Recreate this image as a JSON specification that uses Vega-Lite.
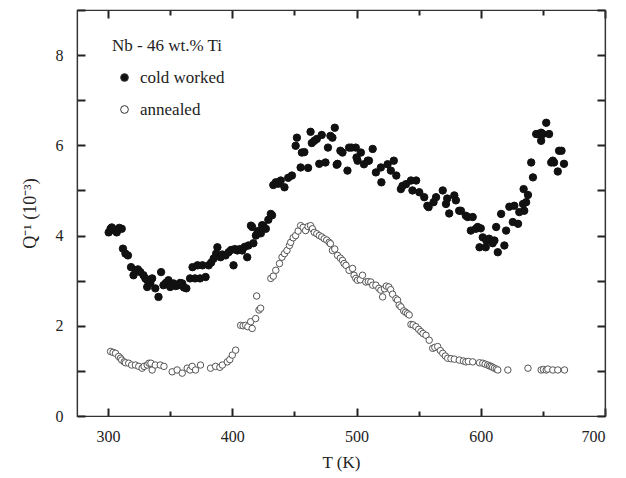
{
  "$schema": "https://vega.github.io/schema/vega-lite/v6.json",
  "width": 528,
  "height": 406,
  "autosize": {"type": "none"},
  "padding": {"left": 77, "top": 10, "right": 21, "bottom": 62},
  "background": "white",
  "config": {
    "view": {"stroke": "#333", "strokeWidth": 1.2},
    "axis": {
      "domainColor": "#333",
      "domainWidth": 1.2,
      "tickColor": "#222",
      "tickWidth": 2,
      "grid": false,
      "labelFont": "Liberation Serif, Times New Roman, serif",
      "labelFontSize": 16,
      "labelColor": "#222",
      "titleFont": "Liberation Serif, Times New Roman, serif",
      "titleFontSize": 17,
      "titleFontWeight": "normal",
      "titleColor": "#222"
    },
    "legend": {
      "titleFont": "Liberation Serif, Times New Roman, serif",
      "titleFontSize": 17,
      "titleFontWeight": "normal",
      "titleColor": "#222",
      "labelFont": "Liberation Serif, Times New Roman, serif",
      "labelFontSize": 17,
      "labelColor": "#222",
      "symbolType": "circle",
      "symbolSize": 60,
      "symbolStrokeColor": "#333",
      "symbolStrokeWidth": 1,
      "symbolOffset": 4,
      "labelOffset": 7,
      "rowPadding": 14,
      "titlePadding": 14
    }
  },
  "data": {
    "values": [
      {"s": "cold worked", "T": 300.5, "Q": 4.07},
      {"s": "cold worked", "T": 302, "Q": 4.15},
      {"s": "cold worked", "T": 303, "Q": 4.18},
      {"s": "cold worked", "T": 305, "Q": 4.12},
      {"s": "cold worked", "T": 307, "Q": 4.07},
      {"s": "cold worked", "T": 309, "Q": 4.17},
      {"s": "cold worked", "T": 311, "Q": 4.15},
      {"s": "cold worked", "T": 312, "Q": 3.71},
      {"s": "cold worked", "T": 314, "Q": 3.6},
      {"s": "cold worked", "T": 316, "Q": 3.56},
      {"s": "cold worked", "T": 318.5, "Q": 3.3},
      {"s": "cold worked", "T": 320.5, "Q": 3.12},
      {"s": "cold worked", "T": 322, "Q": 3.23},
      {"s": "cold worked", "T": 324, "Q": 3.25},
      {"s": "cold worked", "T": 326, "Q": 3.19},
      {"s": "cold worked", "T": 328.5, "Q": 3.12},
      {"s": "cold worked", "T": 330, "Q": 3.05},
      {"s": "cold worked", "T": 331.5, "Q": 3.01},
      {"s": "cold worked", "T": 331.5, "Q": 2.86},
      {"s": "cold worked", "T": 334, "Q": 2.95},
      {"s": "cold worked", "T": 335.5, "Q": 3.05},
      {"s": "cold worked", "T": 338, "Q": 2.83},
      {"s": "cold worked", "T": 340.6, "Q": 2.64},
      {"s": "cold worked", "T": 342.7, "Q": 3.19},
      {"s": "cold worked", "T": 344.6, "Q": 2.9},
      {"s": "cold worked", "T": 346.5, "Q": 2.95},
      {"s": "cold worked", "T": 348.6, "Q": 3.01},
      {"s": "cold worked", "T": 350, "Q": 2.86},
      {"s": "cold worked", "T": 352.7, "Q": 2.94},
      {"s": "cold worked", "T": 354.5, "Q": 2.88},
      {"s": "cold worked", "T": 356.7, "Q": 2.9},
      {"s": "cold worked", "T": 358, "Q": 2.95},
      {"s": "cold worked", "T": 359.7, "Q": 2.94},
      {"s": "cold worked", "T": 361, "Q": 2.85},
      {"s": "cold worked", "T": 363, "Q": 2.83},
      {"s": "cold worked", "T": 366, "Q": 3.05},
      {"s": "cold worked", "T": 368, "Q": 3.3},
      {"s": "cold worked", "T": 370, "Q": 3.05},
      {"s": "cold worked", "T": 372, "Q": 3.34},
      {"s": "cold worked", "T": 374, "Q": 3.05},
      {"s": "cold worked", "T": 376, "Q": 3.34},
      {"s": "cold worked", "T": 378.5, "Q": 3.08},
      {"s": "cold worked", "T": 381, "Q": 3.34},
      {"s": "cold worked", "T": 383, "Q": 3.4},
      {"s": "cold worked", "T": 385, "Q": 3.49},
      {"s": "cold worked", "T": 387, "Q": 3.6},
      {"s": "cold worked", "T": 388, "Q": 3.74},
      {"s": "cold worked", "T": 390.6, "Q": 3.52},
      {"s": "cold worked", "T": 392, "Q": 3.58},
      {"s": "cold worked", "T": 394.6, "Q": 3.56},
      {"s": "cold worked", "T": 397, "Q": 3.63},
      {"s": "cold worked", "T": 399, "Q": 3.68},
      {"s": "cold worked", "T": 401, "Q": 3.34},
      {"s": "cold worked", "T": 402, "Q": 3.7},
      {"s": "cold worked", "T": 404, "Q": 3.67},
      {"s": "cold worked", "T": 406, "Q": 3.7},
      {"s": "cold worked", "T": 408, "Q": 3.67},
      {"s": "cold worked", "T": 410, "Q": 3.75},
      {"s": "cold worked", "T": 412, "Q": 3.52},
      {"s": "cold worked", "T": 413, "Q": 3.78},
      {"s": "cold worked", "T": 415, "Q": 4.22},
      {"s": "cold worked", "T": 416, "Q": 4.19},
      {"s": "cold worked", "T": 417, "Q": 3.83},
      {"s": "cold worked", "T": 419, "Q": 4.0},
      {"s": "cold worked", "T": 420, "Q": 4.04},
      {"s": "cold worked", "T": 421, "Q": 4.1},
      {"s": "cold worked", "T": 423, "Q": 4.05},
      {"s": "cold worked", "T": 424, "Q": 4.23},
      {"s": "cold worked", "T": 425, "Q": 4.22},
      {"s": "cold worked", "T": 427, "Q": 4.15},
      {"s": "cold worked", "T": 429, "Q": 4.35},
      {"s": "cold worked", "T": 431, "Q": 4.48},
      {"s": "cold worked", "T": 432, "Q": 4.45},
      {"s": "cold worked", "T": 433, "Q": 5.12},
      {"s": "cold worked", "T": 435, "Q": 5.18},
      {"s": "cold worked", "T": 437, "Q": 5.15},
      {"s": "cold worked", "T": 439, "Q": 5.22},
      {"s": "cold worked", "T": 442, "Q": 5.07},
      {"s": "cold worked", "T": 445, "Q": 5.28},
      {"s": "cold worked", "T": 448, "Q": 5.33},
      {"s": "cold worked", "T": 451, "Q": 5.99},
      {"s": "cold worked", "T": 452, "Q": 6.17},
      {"s": "cold worked", "T": 455, "Q": 5.51},
      {"s": "cold worked", "T": 456, "Q": 5.84},
      {"s": "cold worked", "T": 458, "Q": 5.85},
      {"s": "cold worked", "T": 461, "Q": 5.5},
      {"s": "cold worked", "T": 463, "Q": 6.3},
      {"s": "cold worked", "T": 464, "Q": 6.05},
      {"s": "cold worked", "T": 466, "Q": 6.1},
      {"s": "cold worked", "T": 468, "Q": 6.14},
      {"s": "cold worked", "T": 470, "Q": 5.59},
      {"s": "cold worked", "T": 472, "Q": 6.23},
      {"s": "cold worked", "T": 475, "Q": 5.62},
      {"s": "cold worked", "T": 477, "Q": 5.95},
      {"s": "cold worked", "T": 479, "Q": 6.21},
      {"s": "cold worked", "T": 480.6, "Q": 6.17},
      {"s": "cold worked", "T": 482.5, "Q": 6.39},
      {"s": "cold worked", "T": 484, "Q": 5.57},
      {"s": "cold worked", "T": 484.7, "Q": 5.59},
      {"s": "cold worked", "T": 487, "Q": 5.88},
      {"s": "cold worked", "T": 488.7, "Q": 5.84},
      {"s": "cold worked", "T": 492.7, "Q": 5.44},
      {"s": "cold worked", "T": 494, "Q": 5.95},
      {"s": "cold worked", "T": 496, "Q": 5.95},
      {"s": "cold worked", "T": 499.4, "Q": 5.95},
      {"s": "cold worked", "T": 500, "Q": 5.73},
      {"s": "cold worked", "T": 500.8, "Q": 5.66},
      {"s": "cold worked", "T": 503.5, "Q": 5.84},
      {"s": "cold worked", "T": 506, "Q": 5.58},
      {"s": "cold worked", "T": 509, "Q": 5.66},
      {"s": "cold worked", "T": 510, "Q": 5.66},
      {"s": "cold worked", "T": 513, "Q": 5.92},
      {"s": "cold worked", "T": 515.6, "Q": 5.4},
      {"s": "cold worked", "T": 519.6, "Q": 5.51},
      {"s": "cold worked", "T": 520, "Q": 5.18},
      {"s": "cold worked", "T": 525, "Q": 5.58},
      {"s": "cold worked", "T": 527.6, "Q": 5.44},
      {"s": "cold worked", "T": 530, "Q": 5.66},
      {"s": "cold worked", "T": 532, "Q": 5.33},
      {"s": "cold worked", "T": 535.7, "Q": 5.03},
      {"s": "cold worked", "T": 537, "Q": 5.1},
      {"s": "cold worked", "T": 539.8, "Q": 5.14},
      {"s": "cold worked", "T": 543.8, "Q": 5.22},
      {"s": "cold worked", "T": 545, "Q": 5.0},
      {"s": "cold worked", "T": 548, "Q": 5.22},
      {"s": "cold worked", "T": 550.5, "Q": 4.96},
      {"s": "cold worked", "T": 554.5, "Q": 4.85},
      {"s": "cold worked", "T": 557, "Q": 4.66},
      {"s": "cold worked", "T": 558, "Q": 4.63},
      {"s": "cold worked", "T": 562, "Q": 4.74},
      {"s": "cold worked", "T": 564, "Q": 4.85},
      {"s": "cold worked", "T": 569.4, "Q": 5.0},
      {"s": "cold worked", "T": 572, "Q": 4.7},
      {"s": "cold worked", "T": 573, "Q": 4.82},
      {"s": "cold worked", "T": 574.6, "Q": 4.49},
      {"s": "cold worked", "T": 578.7, "Q": 4.89},
      {"s": "cold worked", "T": 580, "Q": 4.78},
      {"s": "cold worked", "T": 582.6, "Q": 4.55},
      {"s": "cold worked", "T": 584, "Q": 4.55},
      {"s": "cold worked", "T": 588, "Q": 4.44},
      {"s": "cold worked", "T": 589.5, "Q": 4.41},
      {"s": "cold worked", "T": 592, "Q": 4.11},
      {"s": "cold worked", "T": 593.5, "Q": 4.41},
      {"s": "cold worked", "T": 596, "Q": 4.15},
      {"s": "cold worked", "T": 597.5, "Q": 4.19},
      {"s": "cold worked", "T": 599, "Q": 3.74},
      {"s": "cold worked", "T": 600, "Q": 4.16},
      {"s": "cold worked", "T": 601.6, "Q": 3.96},
      {"s": "cold worked", "T": 604, "Q": 3.74},
      {"s": "cold worked", "T": 604.5, "Q": 3.89},
      {"s": "cold worked", "T": 606.7, "Q": 3.93},
      {"s": "cold worked", "T": 609.6, "Q": 3.83},
      {"s": "cold worked", "T": 611, "Q": 3.89},
      {"s": "cold worked", "T": 612.4, "Q": 4.19},
      {"s": "cold worked", "T": 613.7, "Q": 3.63},
      {"s": "cold worked", "T": 616.4, "Q": 4.48},
      {"s": "cold worked", "T": 619, "Q": 3.78},
      {"s": "cold worked", "T": 620.4, "Q": 4.11},
      {"s": "cold worked", "T": 623, "Q": 4.64},
      {"s": "cold worked", "T": 625.8, "Q": 4.3},
      {"s": "cold worked", "T": 627, "Q": 4.66},
      {"s": "cold worked", "T": 630, "Q": 4.26},
      {"s": "cold worked", "T": 631, "Q": 4.52},
      {"s": "cold worked", "T": 634, "Q": 4.7},
      {"s": "cold worked", "T": 635, "Q": 4.55},
      {"s": "cold worked", "T": 636.5, "Q": 4.74},
      {"s": "cold worked", "T": 634.5, "Q": 5.03},
      {"s": "cold worked", "T": 638, "Q": 4.9},
      {"s": "cold worked", "T": 640.6, "Q": 5.62},
      {"s": "cold worked", "T": 642, "Q": 5.29},
      {"s": "cold worked", "T": 644.6, "Q": 6.25},
      {"s": "cold worked", "T": 646, "Q": 6.25},
      {"s": "cold worked", "T": 648.6, "Q": 6.28},
      {"s": "cold worked", "T": 648.6, "Q": 6.1},
      {"s": "cold worked", "T": 650, "Q": 6.25},
      {"s": "cold worked", "T": 652.7, "Q": 6.5},
      {"s": "cold worked", "T": 655, "Q": 6.25},
      {"s": "cold worked", "T": 656.7, "Q": 5.62},
      {"s": "cold worked", "T": 658, "Q": 5.66},
      {"s": "cold worked", "T": 659, "Q": 5.62},
      {"s": "cold worked", "T": 662, "Q": 5.42},
      {"s": "cold worked", "T": 663, "Q": 5.88},
      {"s": "cold worked", "T": 665, "Q": 5.88},
      {"s": "cold worked", "T": 667, "Q": 5.59},
      {"s": "annealed", "T": 302, "Q": 1.43},
      {"s": "annealed", "T": 304, "Q": 1.41},
      {"s": "annealed", "T": 306, "Q": 1.39},
      {"s": "annealed", "T": 308.5, "Q": 1.32},
      {"s": "annealed", "T": 310, "Q": 1.28},
      {"s": "annealed", "T": 311, "Q": 1.24},
      {"s": "annealed", "T": 313, "Q": 1.2},
      {"s": "annealed", "T": 314, "Q": 1.18},
      {"s": "annealed", "T": 316.6, "Q": 1.17},
      {"s": "annealed", "T": 319, "Q": 1.13},
      {"s": "annealed", "T": 322, "Q": 1.13},
      {"s": "annealed", "T": 324.7, "Q": 1.1},
      {"s": "annealed", "T": 327.4, "Q": 1.06},
      {"s": "annealed", "T": 329, "Q": 1.1},
      {"s": "annealed", "T": 331.5, "Q": 1.13},
      {"s": "annealed", "T": 333, "Q": 1.17},
      {"s": "annealed", "T": 334.5, "Q": 1.17},
      {"s": "annealed", "T": 335.5, "Q": 1.02},
      {"s": "annealed", "T": 338, "Q": 1.13},
      {"s": "annealed", "T": 342, "Q": 1.13},
      {"s": "annealed", "T": 345, "Q": 1.1},
      {"s": "annealed", "T": 351.6, "Q": 0.98},
      {"s": "annealed", "T": 355.6, "Q": 1.02},
      {"s": "annealed", "T": 359.7, "Q": 0.95},
      {"s": "annealed", "T": 363.7, "Q": 1.06},
      {"s": "annealed", "T": 366, "Q": 1.02},
      {"s": "annealed", "T": 367.7, "Q": 1.1},
      {"s": "annealed", "T": 370.4, "Q": 1.02},
      {"s": "annealed", "T": 374.4, "Q": 1.13},
      {"s": "annealed", "T": 382.5, "Q": 1.06},
      {"s": "annealed", "T": 386.5, "Q": 1.1},
      {"s": "annealed", "T": 390, "Q": 1.08},
      {"s": "annealed", "T": 392, "Q": 1.13},
      {"s": "annealed", "T": 396, "Q": 1.2},
      {"s": "annealed", "T": 398, "Q": 1.25},
      {"s": "annealed", "T": 400, "Q": 1.35},
      {"s": "annealed", "T": 402.7, "Q": 1.46},
      {"s": "annealed", "T": 406.7, "Q": 2.01},
      {"s": "annealed", "T": 408.7, "Q": 2.0},
      {"s": "annealed", "T": 410.7, "Q": 2.01},
      {"s": "annealed", "T": 412.5, "Q": 1.98},
      {"s": "annealed", "T": 414.8, "Q": 2.09},
      {"s": "annealed", "T": 416, "Q": 1.94},
      {"s": "annealed", "T": 418.8, "Q": 2.16},
      {"s": "annealed", "T": 419.6, "Q": 2.66},
      {"s": "annealed", "T": 421.5, "Q": 2.35},
      {"s": "annealed", "T": 422.8, "Q": 2.39},
      {"s": "annealed", "T": 431, "Q": 3.05},
      {"s": "annealed", "T": 433, "Q": 3.1},
      {"s": "annealed", "T": 435, "Q": 3.23},
      {"s": "annealed", "T": 438, "Q": 3.38},
      {"s": "annealed", "T": 440, "Q": 3.52},
      {"s": "annealed", "T": 442, "Q": 3.6},
      {"s": "annealed", "T": 444, "Q": 3.67},
      {"s": "annealed", "T": 446, "Q": 3.78},
      {"s": "annealed", "T": 447, "Q": 3.85},
      {"s": "annealed", "T": 449, "Q": 3.95},
      {"s": "annealed", "T": 451, "Q": 4.0},
      {"s": "annealed", "T": 453, "Q": 4.1},
      {"s": "annealed", "T": 455, "Q": 4.22},
      {"s": "annealed", "T": 457, "Q": 4.18},
      {"s": "annealed", "T": 459, "Q": 4.11},
      {"s": "annealed", "T": 461, "Q": 4.2},
      {"s": "annealed", "T": 463, "Q": 4.22},
      {"s": "annealed", "T": 464.5, "Q": 4.15},
      {"s": "annealed", "T": 466, "Q": 4.07},
      {"s": "annealed", "T": 468, "Q": 4.04},
      {"s": "annealed", "T": 470, "Q": 4.0},
      {"s": "annealed", "T": 472, "Q": 3.97},
      {"s": "annealed", "T": 474, "Q": 3.93},
      {"s": "annealed", "T": 476, "Q": 3.9},
      {"s": "annealed", "T": 478, "Q": 3.85},
      {"s": "annealed", "T": 479, "Q": 3.82},
      {"s": "annealed", "T": 480.6, "Q": 3.67},
      {"s": "annealed", "T": 482.5, "Q": 3.7},
      {"s": "annealed", "T": 484.7, "Q": 3.56},
      {"s": "annealed", "T": 487, "Q": 3.5},
      {"s": "annealed", "T": 488.7, "Q": 3.45},
      {"s": "annealed", "T": 490, "Q": 3.38},
      {"s": "annealed", "T": 491.5, "Q": 3.34},
      {"s": "annealed", "T": 494, "Q": 3.23},
      {"s": "annealed", "T": 496.8, "Q": 3.27},
      {"s": "annealed", "T": 498, "Q": 3.12},
      {"s": "annealed", "T": 499.4, "Q": 3.05},
      {"s": "annealed", "T": 500.8, "Q": 3.01},
      {"s": "annealed", "T": 503, "Q": 3.02},
      {"s": "annealed", "T": 504.8, "Q": 3.12},
      {"s": "annealed", "T": 507.5, "Q": 2.97},
      {"s": "annealed", "T": 509.5, "Q": 2.98},
      {"s": "annealed", "T": 511.5, "Q": 2.97},
      {"s": "annealed", "T": 513, "Q": 2.9},
      {"s": "annealed", "T": 515.6, "Q": 2.9},
      {"s": "annealed", "T": 518, "Q": 2.83},
      {"s": "annealed", "T": 519.6, "Q": 2.79},
      {"s": "annealed", "T": 521, "Q": 2.64},
      {"s": "annealed", "T": 522.5, "Q": 2.82},
      {"s": "annealed", "T": 524, "Q": 2.88},
      {"s": "annealed", "T": 526, "Q": 2.86},
      {"s": "annealed", "T": 527.5, "Q": 2.8},
      {"s": "annealed", "T": 529, "Q": 2.7},
      {"s": "annealed", "T": 531.7, "Q": 2.6},
      {"s": "annealed", "T": 533, "Q": 2.57},
      {"s": "annealed", "T": 534.3, "Q": 2.46},
      {"s": "annealed", "T": 535.7, "Q": 2.42},
      {"s": "annealed", "T": 538, "Q": 2.33},
      {"s": "annealed", "T": 539.5, "Q": 2.3},
      {"s": "annealed", "T": 541, "Q": 2.27},
      {"s": "annealed", "T": 542.4, "Q": 2.24},
      {"s": "annealed", "T": 543.8, "Q": 2.03},
      {"s": "annealed", "T": 545.5, "Q": 2.02},
      {"s": "annealed", "T": 547.8, "Q": 1.98},
      {"s": "annealed", "T": 550, "Q": 1.92},
      {"s": "annealed", "T": 551.8, "Q": 1.87},
      {"s": "annealed", "T": 553.5, "Q": 1.83},
      {"s": "annealed", "T": 555.9, "Q": 1.79},
      {"s": "annealed", "T": 558.5, "Q": 1.68},
      {"s": "annealed", "T": 561.3, "Q": 1.5},
      {"s": "annealed", "T": 563, "Q": 1.52},
      {"s": "annealed", "T": 565.3, "Q": 1.54},
      {"s": "annealed", "T": 567.5, "Q": 1.45},
      {"s": "annealed", "T": 569.4, "Q": 1.39},
      {"s": "annealed", "T": 571.5, "Q": 1.33},
      {"s": "annealed", "T": 573.4, "Q": 1.28},
      {"s": "annealed", "T": 576, "Q": 1.27},
      {"s": "annealed", "T": 578.7, "Q": 1.26},
      {"s": "annealed", "T": 582.7, "Q": 1.24},
      {"s": "annealed", "T": 586, "Q": 1.22},
      {"s": "annealed", "T": 588, "Q": 1.2},
      {"s": "annealed", "T": 590, "Q": 1.21},
      {"s": "annealed", "T": 593.5, "Q": 1.2},
      {"s": "annealed", "T": 599, "Q": 1.18},
      {"s": "annealed", "T": 601.6, "Q": 1.17},
      {"s": "annealed", "T": 603.5, "Q": 1.15},
      {"s": "annealed", "T": 605.6, "Q": 1.13},
      {"s": "annealed", "T": 607, "Q": 1.11},
      {"s": "annealed", "T": 608.3, "Q": 1.1},
      {"s": "annealed", "T": 609.5, "Q": 1.08},
      {"s": "annealed", "T": 611, "Q": 1.06},
      {"s": "annealed", "T": 612.5, "Q": 1.04},
      {"s": "annealed", "T": 613.7, "Q": 1.02},
      {"s": "annealed", "T": 621.8, "Q": 1.02},
      {"s": "annealed", "T": 638, "Q": 1.06},
      {"s": "annealed", "T": 648.6, "Q": 1.02},
      {"s": "annealed", "T": 650.5, "Q": 1.03},
      {"s": "annealed", "T": 652.7, "Q": 1.02},
      {"s": "annealed", "T": 654, "Q": 1.04},
      {"s": "annealed", "T": 658, "Q": 1.02},
      {"s": "annealed", "T": 662, "Q": 1.02},
      {"s": "annealed", "T": 667.4, "Q": 1.02}
    ]
  },
  "layer": [
    {
      "transform": [{"filter": "datum.s == 'cold worked'"}],
      "mark": {"type": "circle", "size": 55, "stroke": "#111", "strokeWidth": 1, "opacity": 1},
      "encoding": {
        "x": {
          "field": "T", "type": "quantitative",
          "scale": {"domain": [275, 700], "nice": false, "zero": false},
          "axis": {
            "orient": "bottom",
            "values": [300, 350, 400, 450, 500, 550, 600, 650, 700],
            "labelExpr": "datum.value % 100 == 0 ? datum.label : ''",
            "tickSize": {"condition": {"test": "datum.value % 100 == 0", "value": -8}, "value": -5},
            "labelPadding": 20,
            "title": "T (K)",
            "titlePadding": 10
          }
        },
        "y": {
          "field": "Q", "type": "quantitative",
          "scale": {"domain": [0, 9], "nice": false},
          "axis": {
            "orient": "left",
            "values": [0, 1, 2, 3, 4, 5, 6, 7, 8, 9],
            "labelExpr": "datum.value % 2 == 0 ? datum.label : ''",
            "tickSize": -8,
            "labelPadding": 22,
            "title": "Q⁻¹ (10⁻³)",
            "titleFontSize": 18,
            "titlePadding": 16
          }
        },
        "fill": {
          "field": "s", "type": "nominal",
          "scale": {"domain": ["cold worked", "annealed"], "range": ["#111111", "#ffffff"]},
          "legend": {"title": "Nb - 46 wt.% Ti", "orient": "none", "legendX": 35, "legendY": 28}
        }
      }
    },
    {
      "transform": [{"filter": "datum.s == 'annealed'"}],
      "mark": {"type": "circle", "size": 42, "stroke": "#555", "strokeWidth": 1, "opacity": 1},
      "encoding": {
        "x": {
          "field": "T", "type": "quantitative",
          "axis": {
            "orient": "top",
            "values": [300, 350, 400, 450, 500, 550, 600, 650, 700],
            "labels": false,
            "tickSize": {"condition": {"test": "datum.value % 100 == 0", "value": -8}, "value": -5},
            "title": null
          }
        },
        "y": {
          "field": "Q", "type": "quantitative",
          "axis": {
            "orient": "right",
            "values": [0, 1, 2, 3, 4, 5, 6, 7, 8, 9],
            "labels": false,
            "tickSize": -8,
            "title": null
          }
        },
        "fill": {"field": "s", "type": "nominal"}
      }
    }
  ],
  "resolve": {"axis": {"x": "independent", "y": "independent"}}
}
